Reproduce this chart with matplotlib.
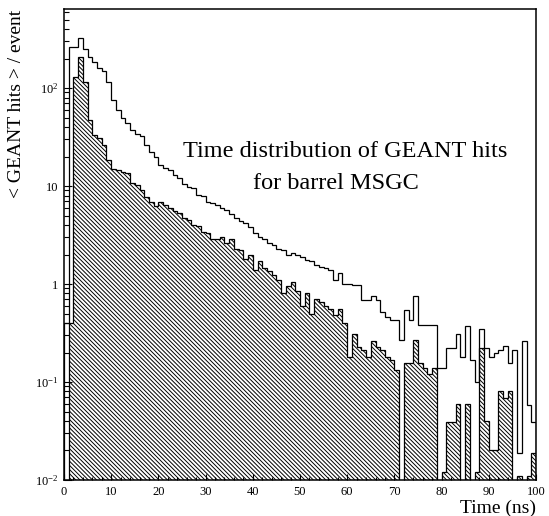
import numpy as np
import matplotlib
matplotlib.use('Agg')
import matplotlib.pyplot as plt
from matplotlib.ticker import LogLocator, NullFormatter

plt.rcParams['font.family'] = 'Liberation Serif'
plt.rcParams['mathtext.fontset'] = 'custom'
plt.rcParams['mathtext.rm'] = 'Liberation Serif'
plt.rcParams['mathtext.it'] = 'Liberation Serif:italic'
plt.rcParams['hatch.linewidth'] = 0.7

# 1 ns bins from 0 to 100 ns
edges = np.arange(0, 101, 1)

# all GEANT hits per event
all_hits = [
    0.4, 263, 263, 321, 250, 209, 183, 159, 150, 116,
    75, 60, 49, 44, 37, 34, 32, 26, 22.4, 20,
    16.4, 15.1, 14.6, 12.9, 12, 10.6, 9.8, 9.6, 8.1, 7.9,
    6.9, 6.65, 6.4, 6.0, 5.7, 5.2, 4.7, 4.4, 4.2, 3.85,
    3.3, 3.0, 2.9, 2.6, 2.5, 2.3, 2.2, 2.0, 2.05, 2.0,
    1.9, 1.75, 1.7, 1.55, 1.5, 1.45, 1.4, 1.1, 1.3, 1.0,
    1.0, 0.97, 0.97, 0.69, 0.69, 0.75, 0.69, 0.52, 0.46, 0.43,
    0.43, 0.27, 0.54, 0.43, 0.75, 0.38, 0.38, 0.38, 0.38, 0.138,
    0.138, 0.22, 0.22, 0.31, 0.18, 0.37, 0.168, 0.10, 0.35, 0.22,
    0.18, 0.20, 0.21, 0.235, 0.155, 0.21, 0.019, 0.26, 0.058, 0.039]

# hatched subset
sub_hits = [
    0, 0.4, 130, 209, 116, 47, 33, 30.7, 26, 18.4,
    15, 14.5, 14, 13.5, 10.7, 10.2, 9.1, 7.8, 6.9, 6.2,
    6.9, 6.4, 5.9, 5.5, 5.3, 4.7, 4.5, 4.0, 3.9, 3.4,
    3.3, 2.9, 2.9, 3.0, 2.6, 2.9, 2.3, 2.2, 1.8, 2.0,
    1.4, 1.7, 1.45, 1.35, 1.25, 1.1, 0.8, 0.95, 1.05, 0.85,
    0.6, 0.8, 0.5, 0.7, 0.66, 0.6, 0.55, 0.48, 0.55, 0.4,
    0.18, 0.31, 0.23, 0.21, 0.18, 0.26, 0.23, 0.21, 0.18, 0.168,
    0.133, 0, 0.157, 0.155, 0.27, 0.155, 0.138, 0.122, 0.138, 0,
    0.012, 0.039, 0.039, 0.06, 0, 0.06, 0, 0.012, 0.22, 0.04,
    0.02, 0.02, 0.08, 0.068, 0.08, 0, 0.011, 0, 0.011, 0.019]

base = 1e-4
sub = np.array(sub_hits, dtype=float)
sub = np.where(sub > 0, sub, base)

fig = plt.figure(figsize=(5.49, 5.16), dpi=100)
ax = fig.add_axes([64 / 549, 36 / 516, 472 / 549, 471 / 516])

ax.stairs(sub, edges, baseline=base, fill=True, facecolor='none',
          edgecolor='black', hatch=chr(92) * 8, lw=0.9)
ax.stairs(all_hits, edges, baseline=base, color='black', lw=0.9)

ax.set_yscale('log')
ax.set_xlim(0, 100)
ax.set_ylim(0.01, 640)

ax.set_xticks(range(0, 101, 10))
ax.set_xticks(range(0, 101, 2), minor=True)
ax.set_yticks([0.01, 0.1, 1, 10, 100])
ax.set_yticklabels(['10$^{-2}$', '10$^{-1}$', '1', '10', '10$^{2}$'])
ax.yaxis.set_minor_locator(LogLocator(base=10, subs=range(2, 10)))
ax.yaxis.set_minor_formatter(NullFormatter())

ax.tick_params(which='both', direction='in', top=False, right=False,
               labelsize=9, width=0.8)
ax.tick_params(axis='y', which='major', length=6, pad=4)
ax.tick_params(axis='y', which='minor', length=3.5)
ax.tick_params(axis='x', which='major', length=4.5, pad=4)
ax.tick_params(axis='x', which='minor', length=2.2)
for s in ax.spines.values():
    s.set_linewidth(1.1)

fig.text(536 / 549, 1 - 508 / 516, 'Time (ns)', ha='right', va='center',
         fontsize=14)
fig.text(17 / 549, 1 - 10 / 516, '< GEANT hits > / event', rotation=90,
         ha='center', va='top', fontsize=14)

fig.text(183 / 549, 1 - 157 / 516, 'Time distribution of GEANT hits',
         ha='left', va='baseline', fontsize=17.5)
fig.text(253 / 549, 1 - 189 / 516, 'for barrel MSGC',
         ha='left', va='baseline', fontsize=17.5)

fig.savefig('out.png', dpi=100)
